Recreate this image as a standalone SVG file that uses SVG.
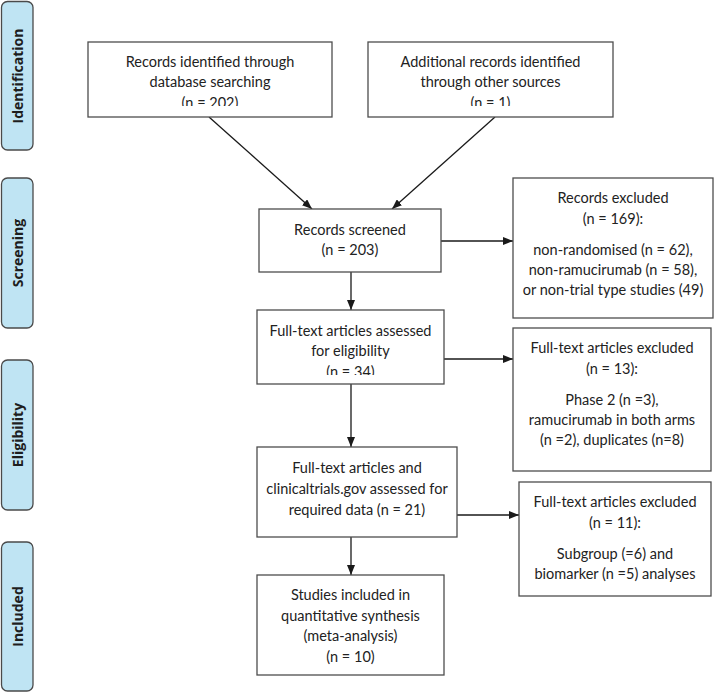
<svg xmlns="http://www.w3.org/2000/svg" width="714" height="692" viewBox="0 0 714 692">
<defs>
<style>
.band{fill:#bfe4f3;stroke:#4a4a4a;stroke-width:1.3}
.blabel{font-family:"Open Sans","Noto Sans",sans-serif;font-weight:bold;font-size:14px;fill:#1e1e1e;text-anchor:middle;dominant-baseline:central}
.box{fill:#ffffff;stroke:#4d4d4d;stroke-width:1.3}
.t{font-family:Lato,"Open Sans",sans-serif;font-size:14.5px;fill:#222222;text-anchor:middle}
.c{fill:none;stroke:#1a1a1a;stroke-width:1.3}
</style>
<marker id="ah" viewBox="0 0 10 8" refX="10" refY="4" markerWidth="10" markerHeight="8" markerUnits="userSpaceOnUse" orient="auto">
<path d="M0,0 L10,4 L0,8 z" fill="#1a1a1a"/>
</marker>
<clipPath id="clipA"><rect x="88" y="42" width="245" height="64"/></clipPath>
<clipPath id="clipB"><rect x="368" y="42" width="245" height="64"/></clipPath>
<clipPath id="clipF"><rect x="257" y="310" width="187" height="65"/></clipPath>
</defs>

<g id="band-identification">
<rect class="band" x="1.5" y="1.5" width="31.5" height="148.5" rx="6"/>
<text class="blabel" transform="translate(17,76) rotate(-90)">Identification</text>
</g>
<g id="band-screening">
<rect class="band" x="1.5" y="178" width="31.5" height="150" rx="6"/>
<text class="blabel" transform="translate(17,253) rotate(-90)">Screening</text>
</g>
<g id="band-eligibility">
<rect class="band" x="1.5" y="360" width="31.5" height="150" rx="6"/>
<text class="blabel" transform="translate(17,435) rotate(-90)">Eligibility</text>
</g>
<g id="band-included">
<rect class="band" x="1.5" y="542" width="31.5" height="149" rx="6"/>
<text class="blabel" transform="translate(17,616.5) rotate(-90)">Included</text>
</g>

<g id="connectors">
<path class="c" d="M209,117 L312,209" marker-end="url(#ah)"/>
<path class="c" d="M495,117 L392,209" marker-end="url(#ah)"/>
<path class="c" d="M441,241 L513,241" marker-end="url(#ah)"/>
<path class="c" d="M351,272 L351,310" marker-end="url(#ah)"/>
<path class="c" d="M444,359 L513,359" marker-end="url(#ah)"/>
<path class="c" d="M351,384 L351,447" marker-end="url(#ah)"/>
<path class="c" d="M457,515 L519,515" marker-end="url(#ah)"/>
<path class="c" d="M351,537 L351,575" marker-end="url(#ah)"/>
</g>

<g id="node-database">
<rect class="box" x="88" y="42" width="244" height="75"/>
<g clip-path="url(#clipA)">
<text class="t" x="210" y="67">Records identified through</text>
<text class="t" x="210" y="87">database searching</text>
<text class="t" x="210" y="108">(n = 202)</text>
</g>
</g>

<g id="node-other">
<rect class="box" x="368" y="42" width="245" height="75"/>
<g clip-path="url(#clipB)">
<text class="t" x="490.5" y="67">Additional records identified</text>
<text class="t" x="490.5" y="87">through other sources</text>
<text class="t" x="490.5" y="108">(n = 1)</text>
</g>
</g>

<g id="node-screened">
<rect class="box" x="259" y="209" width="182" height="63"/>
<text class="t" x="350" y="235">Records screened</text>
<text class="t" x="350" y="255">(n = 203)</text>
</g>

<g id="node-records-excluded">
<rect class="box" x="513" y="178" width="200" height="140"/>
<text class="t" x="613" y="203">Records excluded</text>
<text class="t" x="613" y="224">(n = 169):</text>
<text class="t" x="613" y="255">non-randomised (n = 62),</text>
<text class="t" x="613" y="275">non-ramucirumab (n = 58),</text>
<text class="t" x="613" y="295">or non-trial type studies (49)</text>
</g>

<g id="node-fulltext">
<rect class="box" x="257" y="310" width="187" height="74"/>
<g clip-path="url(#clipF)">
<text class="t" x="350.5" y="336">Full-text articles assessed</text>
<text class="t" x="350.5" y="356">for eligibility</text>
<text class="t" x="350.5" y="377">(n = 34)</text>
</g>
</g>

<g id="node-fulltext-excluded-13">
<rect class="box" x="513" y="328" width="198" height="143"/>
<text class="t" x="612" y="353">Full-text articles excluded</text>
<text class="t" x="612" y="374">(n = 13):</text>
<text class="t" x="612" y="405">Phase 2 (n =3),</text>
<text class="t" x="612" y="425">ramucirumab in both arms</text>
<text class="t" x="612" y="445">(n =2), duplicates (n=8)</text>
</g>

<g id="node-required-data">
<rect class="box" x="257" y="447" width="200" height="90"/>
<text class="t" x="357" y="473">Full-text articles and</text>
<text class="t" x="357" y="494">clinicaltrials.gov assessed for</text>
<text class="t" x="357" y="515">required data (n = 21)</text>
</g>

<g id="node-fulltext-excluded-11">
<rect class="box" x="519" y="482" width="192" height="114"/>
<text class="t" x="615" y="507">Full-text articles excluded</text>
<text class="t" x="615" y="528">(n = 11):</text>
<text class="t" x="615" y="559">Subgroup (=6) and</text>
<text class="t" x="615" y="579">biomarker (n =5) analyses</text>
</g>

<g id="node-included">
<rect class="box" x="257" y="575" width="187" height="100"/>
<text class="t" x="350.5" y="600">Studies included in</text>
<text class="t" x="350.5" y="621">quantitative synthesis</text>
<text class="t" x="350.5" y="641">(meta-analysis)</text>
<text class="t" x="350.5" y="662">(n = 10)</text>
</g>
</svg>
